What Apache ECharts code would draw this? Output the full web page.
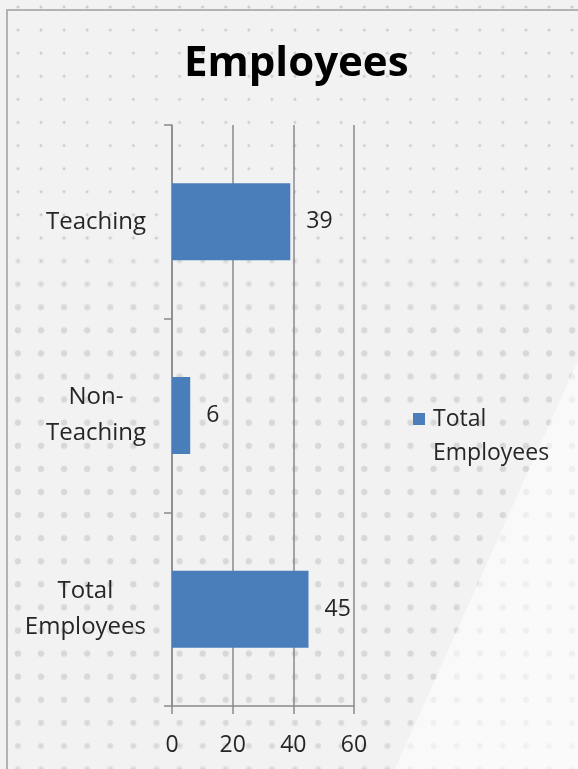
<!DOCTYPE html>
<html>
<head>
<meta charset="utf-8">
<script src="https://cdn.jsdelivr.net/npm/echarts@6/dist/echarts.min.js"></script>
<style>
html,body{margin:0;padding:0;width:578px;height:769px;overflow:hidden;background:#f2f2f2;}
.layer{position:absolute;left:0;top:0;width:578px;height:769px;}
#bgSmall{background-image:radial-gradient(circle, #cccccc 0, #cccccc 1.1px, rgba(204,204,204,0) 1.8px);background-size:23.1px 23.1px;background-position:6.35px -4.55px;}
#bgBig{background-image:radial-gradient(circle, #d8d8d8 0, #d8d8d8 2.8px, rgba(216,216,216,0) 3.6px);background-size:23.1px 23.1px;background-position:6.35px -4.55px;
  -webkit-mask-image:linear-gradient(to bottom, rgba(0,0,0,0) 0, rgba(0,0,0,0) 230px, #000 320px, #000 680px, rgba(0,0,0,.6) 769px);
  mask-image:linear-gradient(to bottom, rgba(0,0,0,0) 0, rgba(0,0,0,0) 230px, #000 320px, #000 680px, rgba(0,0,0,.6) 769px);}
#sheen{background:linear-gradient(114deg, rgba(255,255,255,0.25), rgba(255,255,255,0.65));clip-path:polygon(578px 360px,578px 769px,395px 769px);}
#frame{position:absolute;left:6px;top:9px;width:640px;height:820px;border-top:2px solid #b3b3b3;border-left:2px solid #b3b3b3;}
#chart{position:absolute;left:0;top:0;width:578px;height:769px;}
</style>
</head>
<body>
<div id="bgSmall" class="layer"></div>
<div id="bgBig" class="layer"></div>
<div id="sheen" class="layer"></div>
<div id="frame"></div>
<div id="chart"></div>
<script>
const titleText = 'Employees';
const categories = ['Teaching', 'Non-Teaching', 'Total Employees'];
const categoryLabels = ['Teaching', 'Non-\nTeaching', 'Total\nEmployees'];
const values = [39, 6, 45];
const seriesName = 'Total Employees';
const legendLines = ['Total', 'Employees'];
const xMin = 0, xMax = 60, xInterval = 20;

const FONT = '"Open Sans", sans-serif';
const GRID_COLOR = '#8a8a8a';
const TEXT_COLOR = '#262626';

const chart = echarts.init(document.getElementById('chart'), null, {renderer: 'canvas'});
chart.setOption({
  backgroundColor: 'transparent',
  animation: false,
  title: {
    text: titleText,
    left: 184,
    top: 43,
    padding: 0,
    textStyle: {fontFamily: FONT, fontSize: 42, fontWeight: 'bold', color: '#000'}
  },
  legend: {
    data: [seriesName],
    orient: 'vertical',
    left: 413,
    top: 368,
    padding: 0,
    icon: 'rect',
    itemWidth: 12,
    itemHeight: 12,
    formatter: () => ['', ...legendLines].map(l => '{t|' + l + '}').join('\n'),
    textStyle: {
      fontFamily: FONT, fontSize: 23, lineHeight: 34, color: TEXT_COLOR,
      rich: {t: {fontFamily: FONT, fontSize: 23, lineHeight: 34, color: TEXT_COLOR, padding: [0, 0, 0, 3]}}
    }
  },
  grid: {left: 172, right: 224, top: 125, bottom: 63, containLabel: false, outerBoundsMode: 'none'},
  xAxis: {
    type: 'value',
    min: xMin, max: xMax, interval: xInterval,
    axisLine: {show: true, lineStyle: {color: GRID_COLOR, width: 1.5}},
    axisTick: {show: true, length: 8, lineStyle: {color: GRID_COLOR, width: 1.5}},
    splitLine: {show: true, lineStyle: {color: GRID_COLOR, width: 1.5, type: 'solid'}},
    axisLabel: {fontFamily: FONT, fontSize: 23, color: TEXT_COLOR, margin: 28}
  },
  yAxis: {
    type: 'category',
    data: categories,
    inverse: true,
    axisLine: {show: true, lineStyle: {color: GRID_COLOR, width: 1.5}},
    axisTick: {show: true, length: 8, alignWithLabel: false, lineStyle: {color: GRID_COLOR, width: 1.5}},
    splitLine: {show: false},
    axisLabel: {
      margin: 26,
      formatter: (v, i) => categoryLabels[i].split('\n').map(l => '{c|' + l + '}').join('\n'),
      rich: {c: {align: 'center', fontFamily: FONT, fontSize: 24, lineHeight: 36, color: TEXT_COLOR}}
    }
  },
  series: [{
    name: seriesName,
    type: 'bar',
    data: values,
    barWidth: 77,
    itemStyle: {color: '#4a7ebb'},
    label: {show: true, position: 'right', distance: 16, fontFamily: FONT, fontSize: 23, color: TEXT_COLOR}
  }]
});
</script>
</body>
</html>
